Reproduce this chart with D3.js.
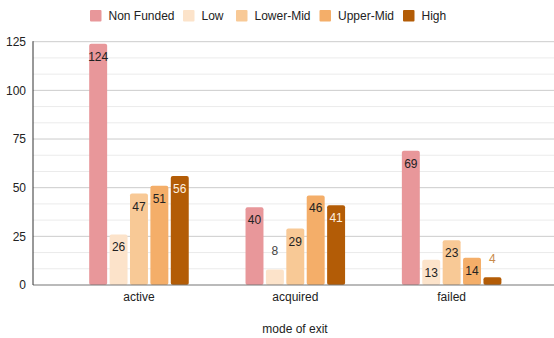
<!DOCTYPE html>
<html>
<head>
<meta charset="utf-8">
<script src="https://cdn.jsdelivr.net/npm/d3@7"></script>
<style>
  html, body { margin: 0; padding: 0; background: #fff; }
  svg { display: block; font-family: "Liberation Sans", Arial, sans-serif; }
</style>
</head>
<body>
<svg id="chart" width="554" height="338"></svg>
<script>
// Exit mode counts by funding level
const categories = ["active", "acquired", "failed"];
const seriesNames = ["Non Funded", "Low", "Lower-Mid", "Upper-Mid", "High"];
const nonFunded = [124, 40, 69];
const low = [26, 8, 13];
const lowerMid = [47, 29, 23];
const upperMid = [51, 46, 14];
const high = [56, 41, 4];
const yTicks = [0, 25, 50, 75, 100, 125];
const xTitle = "mode of exit";

const seriesValues = [nonFunded, low, lowerMid, upperMid, high];
const colors = ["#e8979a", "#fce3ca", "#f8c996", "#f4ae69", "#b35c06"];
const insideText = ["#222", "#222", "#222", "#222", "#fdf0e0"];
const outsideText = ["#444", "#444", "#444", "#444", "#c98a4b"];

const svg = d3.select("#chart");
const plotLeft = 33, plotRight = 554, plotTop = 41.7, plotBottom = 285;

const y = d3.scaleLinear().domain([0, 125]).range([plotBottom, plotTop]);
const x0 = d3.scaleBand().domain(categories).range([60.8, 529.8]).paddingInner(0).paddingOuter(0);
const groupW = 102;
const x1 = d3.scaleBand().domain(seriesNames).range([0, groupW]).paddingInner(0.12).paddingOuter(0.06);

// minor gridlines (thirds of each major step)
const minor = d3.range(0, 125, 25 / 3).filter((v, i) => i % 3 !== 0);
svg.append("g").selectAll("line").data(minor).join("line")
  .attr("x1", plotLeft).attr("x2", plotRight)
  .attr("y1", d => y(d)).attr("y2", d => y(d))
  .attr("stroke", "#ebebeb").attr("stroke-width", 1);

// major gridlines
svg.append("g").selectAll("line").data(yTicks.filter(d => d > 0)).join("line")
  .attr("x1", plotLeft).attr("x2", plotRight)
  .attr("y1", d => y(d)).attr("y2", d => y(d))
  .attr("stroke", "#cccccc").attr("stroke-width", 1);

// y tick labels
const yAxis = d3.axisLeft(y).tickValues(yTicks).tickSize(0).tickPadding(7);
const gy = svg.append("g").attr("transform", `translate(${plotLeft},0)`).call(yAxis);
gy.select(".domain").remove();
gy.selectAll("text").attr("font-size", 12).attr("fill", "#222")
  .attr("font-family", "Liberation Sans, Arial, sans-serif");

// bars
const data = [];
categories.forEach((c, ci) => {
  seriesNames.forEach((s, si) => {
    data.push({ cat: c, series: s, si, value: seriesValues[si][ci] });
  });
});

const barX = d => x0(d.cat) + x0.bandwidth() / 2 - groupW / 2 + x1(d.series);

svg.append("g").selectAll("rect").data(data).join("rect")
  .attr("x", barX)
  .attr("y", d => y(d.value))
  .attr("width", x1.bandwidth())
  .attr("height", d => y(0) - y(d.value))
  .attr("rx", 2)
  .attr("fill", d => colors[d.si]);

// value labels
svg.append("g").selectAll("text").data(data).join("text")
  .attr("x", d => barX(d) + x1.bandwidth() / 2)
  .attr("y", d => {
    const h = y(0) - y(d.value);
    return h > 20 ? y(d.value) + 17 : y(d.value) - 14;
  })
  .attr("text-anchor", "middle")
  .attr("font-size", 12)
  .attr("fill", d => (y(0) - y(d.value)) > 20 ? insideText[d.si] : outsideText[d.si])
  .text(d => d.value);

// axis lines
svg.append("line").attr("x1", plotLeft).attr("x2", plotRight)
  .attr("y1", plotBottom).attr("y2", plotBottom)
  .attr("stroke", "#777").attr("stroke-width", 1.2);
svg.append("line").attr("x1", plotLeft).attr("x2", plotLeft)
  .attr("y1", plotTop - 0.5).attr("y2", plotBottom)
  .attr("stroke", "#333").attr("stroke-width", 1);

// x category labels
const xAxis = d3.axisBottom(x0).tickSize(0).tickPadding(0);
const gx = svg.append("g").attr("transform", `translate(0,${plotBottom})`).call(xAxis);
gx.select(".domain").remove();
gx.selectAll("text").attr("font-size", 12).attr("fill", "#222")
  .attr("dy", 0).attr("y", 16)
  .attr("font-family", "Liberation Sans, Arial, sans-serif");

// axis title
svg.append("text").attr("x", 295).attr("y", 333)
  .attr("text-anchor", "middle").attr("font-size", 12).attr("fill", "#222")
  .text(xTitle);

// legend
const legendX = [90, 183, 236, 319.5, 403];
const lg = svg.append("g").selectAll("g").data(seriesNames).join("g")
  .attr("transform", (d, i) => `translate(${legendX[i]},10)`);
lg.append("rect").attr("width", 11.5).attr("height", 11.5).attr("rx", 1)
  .attr("fill", (d, i) => colors[i]);
lg.append("text").attr("x", 18.5).attr("y", 10.2)
  .attr("font-size", 12).attr("fill", "#222").text(d => d);
</script>
</body>
</html>
